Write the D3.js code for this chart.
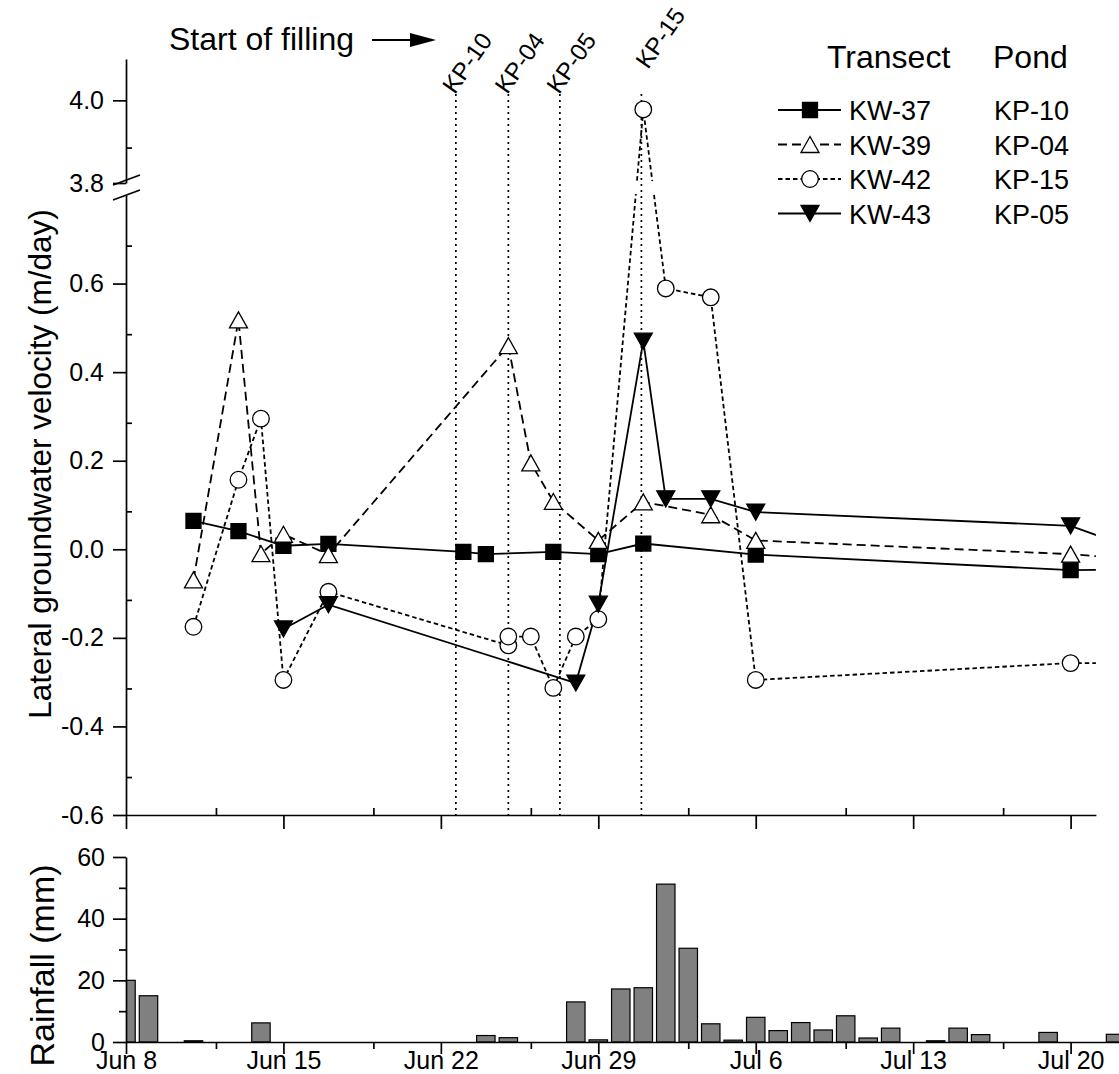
<!DOCTYPE html>
<html>
<head>
<meta charset="utf-8">
<script src="https://cdn.jsdelivr.net/npm/d3@7"></script>
<style>
  body { margin: 0; background: #fff; }
  svg { display: block; font-family: "Liberation Sans", Arial, Helvetica, sans-serif; }
</style>
</head>
<body>
<svg id="chart" width="1119" height="1074"></svg>
<script>
const parse = d3.timeParse("%m-%d");

// Lateral groundwater velocity (m/day) by transect
const kw37Dates  = ["06-11","06-13","06-15","06-17","06-23","06-24","06-27","06-29","07-01","07-06","07-20","07-22"];
const kw37Values = [0.064, 0.041, 0.008, 0.012, -0.006, -0.011, -0.006, -0.011, 0.013, -0.012, -0.047, -0.046];

const kw39Dates  = ["06-11","06-13","06-14","06-15","06-17","06-25","06-26","06-27","06-29","07-01","07-04","07-06","07-20","07-22"];
const kw39Values = [-0.069, 0.518, -0.010, 0.034, -0.012, 0.460, 0.195, 0.108, 0.020, 0.107, 0.078, 0.020, -0.011, -0.019];

const kw42Dates  = ["06-11","06-13","06-14","06-15","06-17","06-25","06-25","06-26","06-27","06-28","06-29","07-01","07-02","07-04","07-06","07-20","07-22"];
const kw42Values = [-0.175, 0.157, 0.295, -0.295, -0.096, -0.217, -0.197, -0.197, -0.313, -0.197, -0.158, 3.978, 0.589, 0.569, -0.295, -0.257, -0.257];

const kw43Dates  = ["06-15","06-17","06-28","06-29","07-01","07-02","07-04","07-06","07-20","07-22"];
const kw43Values = [-0.180, -0.125, -0.302, -0.124, 0.470, 0.114, 0.114, 0.084, 0.053, 0.016];

const transects = ["KW-37", "KW-39", "KW-42", "KW-43"];
const ponds     = ["KP-10", "KP-04", "KP-15", "KP-05"];

// Start of pond filling
const fillPonds = ["KP-10", "KP-04", "KP-05", "KP-15"];
const fillTimes = ["06-22 16", "06-25 00", "06-27 07", "06-30 22"];

// Daily rainfall (mm), Jun 8 onwards
const rainStart = "06-08";
const rainValues = [20, 15, 0, 0.4, 0, 0, 6.2, 0, 0, 0, 0, 0, 0, 0, 0, 0,
                    2.1, 1.4, 0, 0, 13, 0.7, 17.2, 17.6, 51.2, 30.4, 5.9, 0.6,
                    8.0, 3.7, 6.3, 3.9, 8.5, 1.3, 4.5, 0, 0.4, 4.5, 2.4, 0, 0,
                    3.1, 0, 0, 2.5];

// Axis ticks
const majorDates = ["06-08","06-15","06-22","06-29","07-06","07-13","07-20"];
const minorDates = ["06-12","06-19","06-26","07-03","07-10","07-17"];
const velTicksLow = [-0.6, -0.4, -0.2, 0.0, 0.2, 0.4, 0.6];
const velTicksHigh = [3.8, 4.0];
const rainTicks = [0, 20, 40, 60];
const rainMinor = [10, 30, 50];

// ---------------------------------------------------------------
const svg = d3.select("#chart");
const W = 1119;
const parseHour = d3.timeParse("%m-%d %H");

const x = d3.scaleTime().domain([parse("06-08"), parse("07-20")]).range([126, 1070.6]);
const mainEnd = d3.timeHour.offset(parse("07-21"), 3);
const rainEnd = d3.timeHour.offset(parse("07-22"), 6);
const xMain = x.copy().domain([parse("06-08"), mainEnd]).range([x(parse("06-08")), x(mainEnd)]);
const xRain = x.copy().domain([parse("06-08"), rainEnd]).range([x(parse("06-08")), x(rainEnd)]);
const dayW = x(parse("06-09")) - x(parse("06-08"));

// Broken velocity axis: lower and upper segments
const yLo = d3.scaleLinear().domain([-0.6, 0.8]).range([815, 195]);
const yUp = d3.scaleLinear().domain([3.8, 4.1]).range([183, 59]);
const yv = v => (v >= 3.8 ? yUp(v) : yLo(v));
const yRain = d3.scaleLinear().domain([0, 60]).range([1042, 857]);

const fontTick = 25;
const axisColor = "#000";

function styleAxis(g, fs) {
  g.attr("font-family", null).attr("font-size", null);
  g.selectAll("path.domain").attr("stroke", axisColor).attr("stroke-width", 1.7);
  g.selectAll(".tick line").attr("stroke", axisColor).attr("stroke-width", 1.7);
  g.selectAll(".tick text").attr("fill", "#000").style("font-size", fs + "px");
}

const defs = svg.append("defs");
// data lines skip the axis break band
const cp = defs.append("clipPath").attr("id", "lineClip");
cp.append("rect").attr("x", 126).attr("y", 0).attr("width", xMain(mainEnd) - 126).attr("height", 181);
cp.append("rect").attr("x", 126).attr("y", 194).attr("width", xMain(mainEnd) - 126).attr("height", 640);
defs.append("clipPath").attr("id", "markClip")
  .append("rect").attr("x", 126).attr("y", 0).attr("width", xMain(mainEnd) - 126).attr("height", 840);
defs.append("clipPath").attr("id", "rainClip")
  .append("rect").attr("x", 126).attr("y", 800).attr("width", W - 126).attr("height", 260);

// ---------------- Rainfall panel ----------------
const rainData = rainValues.map((v, i) => ({ date: d3.timeDay.offset(parse(rainStart), i), v }));
const bw = dayW * 0.82;
svg.append("g").attr("clip-path", "url(#rainClip)")
  .selectAll("rect").data(rainData).join("rect")
  .attr("x", d => xRain(d.date) - bw / 2)
  .attr("y", d => yRain(d.v))
  .attr("width", bw)
  .attr("height", d => yRain(0) - yRain(d.v))
  .attr("fill", "#808080")
  .attr("stroke", "#000")
  .attr("stroke-width", 1.2);

const rainXAxis = svg.append("g").attr("transform", `translate(0,${yRain(0)})`)
  .call(d3.axisBottom(xRain).tickValues(majorDates.map(parse)).tickSize(12).tickSizeOuter(0)
    .tickPadding(-3).tickFormat(d3.timeFormat("%b %-d")));
styleAxis(rainXAxis, fontTick);
const rainXMinor = svg.append("g").attr("transform", `translate(0,${yRain(0)})`)
  .call(d3.axisBottom(xRain).tickValues(minorDates.map(parse)).tickSize(7).tickSizeOuter(0).tickFormat(""));
styleAxis(rainXMinor, fontTick);
rainXMinor.select("path.domain").remove();

const rainYAxis = svg.append("g").attr("transform", "translate(126,0)")
  .call(d3.axisLeft(yRain).tickValues(rainTicks).tickSize(13).tickSizeOuter(0).tickPadding(8));
styleAxis(rainYAxis, fontTick);
const rainYMinor = svg.append("g").attr("transform", "translate(126,0)")
  .call(d3.axisLeft(yRain).tickValues(rainMinor).tickSize(7).tickSizeOuter(0).tickFormat(""));
styleAxis(rainYMinor, fontTick);
rainYMinor.select("path.domain").remove();

svg.append("text")
  .attr("transform", `translate(54,${(yRain(0) + yRain(60)) / 2 + 16}) rotate(-90)`)
  .attr("text-anchor", "middle").style("font-size", "34px").text("Rainfall (mm)");

// ---------------- Velocity panel axes ----------------
const mainXAxis = svg.append("g").attr("transform", `translate(0,${yLo(-0.6)})`)
  .call(d3.axisBottom(xMain).tickValues(majorDates.map(parse)).tickSize(14).tickSizeOuter(0).tickFormat(""));
styleAxis(mainXAxis, fontTick);
const mainXMinor = svg.append("g").attr("transform", `translate(0,${yLo(-0.6)})`)
  .call(d3.axisTop(xMain).tickValues(minorDates.map(parse)).tickSize(7).tickSizeOuter(0).tickFormat(""));
styleAxis(mainXMinor, fontTick);
mainXMinor.select("path.domain").remove();

const fmt = d => d.toFixed(1);
const yLowAxis = svg.append("g").attr("transform", "translate(126,0)")
  .call(d3.axisLeft(yLo).tickValues(velTicksLow).tickSize(13).tickSizeOuter(0).tickPadding(9).tickFormat(fmt));
styleAxis(yLowAxis, fontTick);
const yHighAxis = svg.append("g").attr("transform", "translate(126,0)")
  .call(d3.axisLeft(yUp).tickValues(velTicksHigh).tickSize(13).tickSizeOuter(0).tickPadding(9).tickFormat(fmt));
styleAxis(yHighAxis, fontTick);

// minor ticks sit inside the frame
const minorLow = velTicksLow.map(v => v + 0.2 * 3 / 7);
const minorHigh = [velTicksHigh[0] + 0.2 * 3 / 7];
const yLowMinor = svg.append("g").attr("transform", "translate(126,0)")
  .call(d3.axisRight(yLo).tickValues(minorLow).tickSize(6).tickFormat(""));
styleAxis(yLowMinor, fontTick);
yLowMinor.select("path.domain").remove();
const yHighMinor = svg.append("g").attr("transform", "translate(126,0)")
  .call(d3.axisRight(yUp).tickValues(minorHigh).tickSize(6).tickFormat(""));
styleAxis(yHighMinor, fontTick);
yHighMinor.select("path.domain").remove();

// break marks
const brk = [yUp(3.8) - 3, yLo(0.8)];
svg.append("g").selectAll("line").data(brk).join("line")
  .attr("x1", 113).attr("x2", 140)
  .attr("y1", d => d + 5).attr("y2", d => d - 5)
  .attr("stroke", "#000").attr("stroke-width", 1.7);

svg.append("text")
  .attr("transform", `translate(51,${(yUp(4.1) + yLo(-0.6)) / 2 + 27}) rotate(-90)`)
  .attr("text-anchor", "middle").style("font-size", "31.5px")
  .text("Lateral groundwater velocity (m/day)");

// ---------------- Start of filling ----------------
const fills = fillPonds.map((p, i) => ({ pond: p, date: parseHour(fillTimes[i]) }));
// the last label sits a little higher than the others
const labelLift = { "KP-15": 25 };
svg.append("g").selectAll("line").data(fills).join("line")
  .attr("x1", d => xMain(d.date)).attr("x2", d => xMain(d.date))
  .attr("y1", 94).attr("y2", yLo(-0.6))
  .attr("stroke", "#000").attr("stroke-width", 1.7).attr("stroke-dasharray", "2,4");
svg.append("g").selectAll("text").data(fills).join("text")
  .attr("transform", d => {
    const lift = labelLift[d.pond] || 0;
    return `translate(${xMain(d.date) - 1 + lift * 0.3},${95 - lift}) rotate(-55)`;
  })
  .style("font-size", "24px").text(d => d.pond);

svg.append("text").attr("x", 169).attr("y", 50).style("font-size", "32px").text("Start of filling");
svg.append("line").attr("x1", 372).attr("x2", 414).attr("y1", 40).attr("y2", 40)
  .attr("stroke", "#000").attr("stroke-width", 2);
svg.append("path").attr("d", "M410,33L436,40L410,47Z").attr("fill", "#000");

// ---------------- Series ----------------
const markers = {
  square:  "M-7.5,-7.5H7.5V7.5H-7.5Z",
  triUp:   "M0,-8L9,8L-9,8Z",
  circle:  d3.symbol(d3.symbolCircle, Math.PI * 8.3 * 8.3)(),
  triDown: "M-9,-8L9,-8L0,8Z"
};
const series = [
  { name: transects[0], pond: ponds[0], dates: kw37Dates, values: kw37Values, dash: null,  marker: "square",  fill: "#000" },
  { name: transects[1], pond: ponds[1], dates: kw39Dates, values: kw39Values, dash: "9,5", marker: "triUp",   fill: "#fff" },
  { name: transects[2], pond: ponds[2], dates: kw42Dates, values: kw42Values, dash: "4.5,3", marker: "circle", fill: "#fff" },
  { name: transects[3], pond: ponds[3], dates: kw43Dates, values: kw43Values, dash: null,  marker: "triDown", fill: "#000" }
];
series.forEach(s => { s.pts = s.dates.map((d, i) => ({ date: parse(d), v: s.values[i] })); });

const line = d3.line().x(d => xMain(d.date)).y(d => yv(d.v));
const gLines = svg.append("g").attr("clip-path", "url(#lineClip)");
series.forEach(s => {
  gLines.append("path").attr("d", line(s.pts))
    .attr("fill", "none").attr("stroke", "#000").attr("stroke-width", 1.8)
    .attr("stroke-dasharray", s.dash);
});
const gMarks = svg.append("g").attr("clip-path", "url(#markClip)");
series.forEach(s => {
  gMarks.append("g").selectAll("path").data(s.pts).join("path")
    .attr("transform", d => `translate(${xMain(d.date)},${yv(d.v)})`)
    .attr("d", markers[s.marker])
    .attr("fill", s.fill).attr("stroke", "#000").attr("stroke-width", 1.3);
});

// ---------------- Legend ----------------
svg.append("text").attr("x", 827).attr("y", 68).style("font-size", "32px").text("Transect");
svg.append("text").attr("x", 993).attr("y", 68).style("font-size", "32px").text("Pond");
const leg = svg.append("g").selectAll("g").data(series).join("g")
  .attr("transform", (d, i) => `translate(0,${110 + i * 34.5})`);
leg.append("line").attr("x1", 778).attr("x2", 841).attr("y1", 0).attr("y2", 0)
  .attr("stroke", "#000").attr("stroke-width", 1.8).attr("stroke-dasharray", d => d.dash);
leg.append("path").attr("transform", "translate(810,0)").attr("d", d => markers[d.marker])
  .attr("fill", d => d.fill).attr("stroke", "#000").attr("stroke-width", 1.3);
leg.append("text").attr("x", 849).attr("y", 10).style("font-size", "27px").text(d => d.name);
leg.append("text").attr("x", 994).attr("y", 10).style("font-size", "27px").text(d => d.pond);
</script>
</body>
</html>
